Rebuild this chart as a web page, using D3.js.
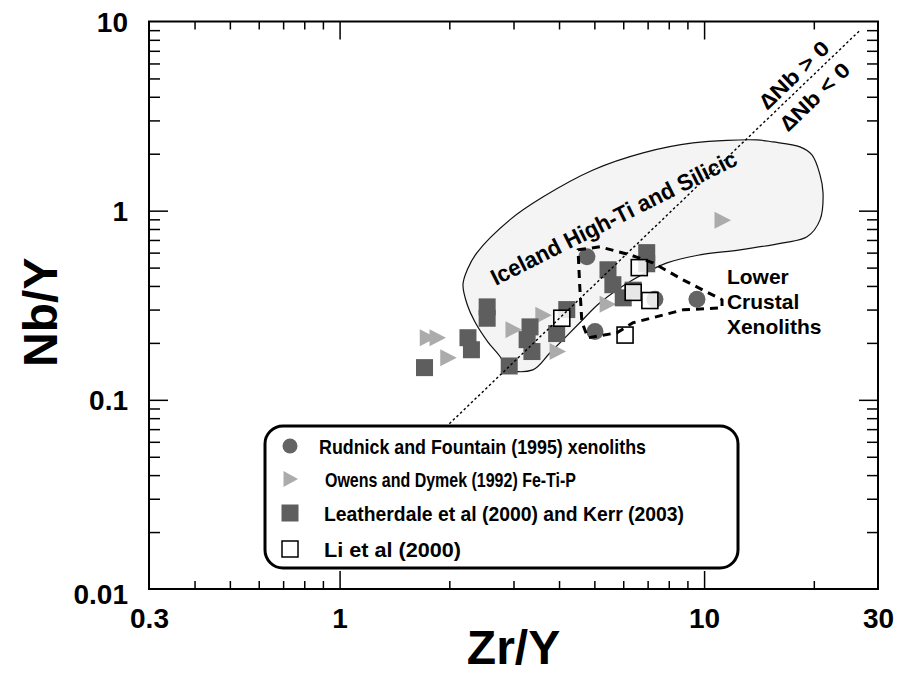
<!DOCTYPE html>
<html><head><meta charset="utf-8">
<script src="https://cdn.jsdelivr.net/npm/d3@7"></script>
<style>body{margin:0;background:#fff}</style>
</head><body><svg id="c" width="898" height="673"></svg>
<script>
// ---------- data ----------
const xTickValues = [0.3, 1, 10, 30];
const xTickLabels = ["0.3", "1", "10", "30"];
const xMajorTicks = [1, 10];
const xMinorTicks = [0.4,0.5,0.6,0.7,0.8,0.9,2,3,4,5,6,7,8,9,20];
const yTickValues = [0.01, 0.1, 1, 10];
const yTickLabels = ["0.01", "0.1", "1", "10"];
const yMajorTicks = [0.1, 1];
const yMinorTicks = [0.02,0.03,0.04,0.05,0.06,0.07,0.08,0.09,0.2,0.3,0.4,0.5,0.6,0.7,0.8,0.9,2,3,4,5,6,7,8,9];

const rudnickZrY = [4.77, 5.02, 7.33, 9.56];
const rudnickNbY = [0.57, 0.23, 0.34, 0.34];

const owensZrY = [1.74, 1.85, 1.98, 2.99, 3.61, 3.95, 5.42, 11.2];
const owensNbY = [0.213, 0.213, 0.167, 0.235, 0.28, 0.18, 0.32, 0.89];

const leatherZrY = [1.71, 2.25, 2.30, 2.54, 2.54, 2.92, 3.33, 3.27, 3.37, 3.94, 4.20, 5.45, 5.62, 6.00, 6.39, 6.96, 6.96];
const leatherNbY = [0.148, 0.213, 0.184, 0.31, 0.27, 0.151, 0.243, 0.208, 0.18, 0.224, 0.30, 0.487, 0.406, 0.346, 0.38, 0.60, 0.524];

const liZrY = [4.07, 6.64, 6.39, 7.10, 6.07];
const liNbY = [0.27, 0.50, 0.37, 0.335, 0.22];

const icelandZrY = [13.97, 9.32, 6.80, 4.96, 3.61, 2.93, 2.38, 2.24, 2.18, 2.24, 2.35, 2.55, 2.77, 2.86, 3.39, 3.78, 4.56, 5.18, 6.38, 7.91, 9.74, 12.55, 16.47, 19.16, 20.80, 21.20, 20.80, 19.77, 18.33, 15.45];
const icelandNbY = [2.366, 2.28, 2.02, 1.64, 1.18, 0.894, 0.599, 0.487, 0.406, 0.318, 0.2586, 0.2027, 0.167, 0.146, 0.144, 0.1773, 0.2555, 0.3257, 0.431, 0.530, 0.584, 0.621, 0.676, 0.727, 0.894, 1.242, 1.546, 1.97, 2.173, 2.309];

const lowerCrustZrY = [4.51, 5.18, 6.26, 7.24, 8.75, 11.2, 11.2, 8.75, 6.38, 5.77, 4.80, 4.62, 4.56];
const lowerCrustNbY = [0.621, 0.644, 0.584, 0.530, 0.431, 0.338, 0.3065, 0.299, 0.2555, 0.2262, 0.2128, 0.2586, 0.396];

const deltaNbZrY = [2.0, 26.8];
const deltaNbNbY = [0.0747, 9.0];

const legendLabels = ["Rudnick and Fountain (1995) xenoliths", " Owens and Dymek (1992) Fe-Ti-P", "Leatherdale et al (2000) and Kerr (2003)", "Li et al (2000)"];
const legendWidths = [327, 251, 360, 137];

// ---------- setup ----------
const svg = d3.select("#c");
const FONT = "'Liberation Sans', Arial, sans-serif";
const L = 149, R = 878, T = 21.5, B = 589;
const x = d3.scaleLog().domain([0.3, 30]).range([L, R]);
const y = d3.scaleLog().domain([0.01, 10]).range([B, T]);

const darkGray = "#5e5e5e", circleGray = "#646464", lightGray = "#ababab";

// Iceland field
const icelandPts = icelandZrY.map((v, i) => [x(v), y(icelandNbY[i])]);
svg.append("path")
  .attr("d", d3.line().curve(d3.curveCatmullRomClosed.alpha(0.5))(icelandPts))
  .attr("fill", "#f4f4f4").attr("stroke", "#111").attr("stroke-width", 1.2);

// markers
const g = svg.append("g");
g.selectAll(".tri").data(owensZrY).enter().append("path")
  .attr("d", "M-7.5,-8.5L9,0L-7.5,8.5Z")
  .attr("transform", (d, i) => `translate(${x(d)},${y(owensNbY[i])})`)
  .attr("fill", lightGray);
g.selectAll(".sq").data(leatherZrY).enter().append("rect")
  .attr("x", d => x(d) - 8.5).attr("y", (d, i) => y(leatherNbY[i]) - 8.5)
  .attr("width", 17).attr("height", 17).attr("fill", darkGray);
g.selectAll(".ci").data(rudnickZrY).enter().append("circle")
  .attr("cx", d => x(d)).attr("cy", (d, i) => y(rudnickNbY[i])).attr("r", 8.5)
  .attr("fill", circleGray);
g.selectAll(".osq").data(liZrY).enter().append("rect")
  .attr("x", d => x(d) - 8).attr("y", (d, i) => y(liNbY[i]) - 8)
  .attr("width", 16).attr("height", 16).attr("fill", "#fff").attr("fill-opacity", 0.85)
  .attr("stroke", "#000").attr("stroke-width", 1.6);

// Delta Nb line
const lp = deltaNbZrY.map((v, i) => [x(v), y(deltaNbNbY[i])]);
svg.append("line").attr("x1", lp[0][0]).attr("y1", lp[0][1]).attr("x2", lp[1][0]).attr("y2", lp[1][1])
  .attr("stroke", "#000").attr("stroke-width", 1.4).attr("stroke-dasharray", "2.5,2.5");
const ang = Math.atan2(lp[1][1] - lp[0][1], lp[1][0] - lp[0][0]) * 180 / Math.PI;
const tpos = 0.862;
const lx = lp[0][0] + (lp[1][0] - lp[0][0]) * tpos, ly = lp[0][1] + (lp[1][1] - lp[0][1]) * tpos;
const dg = svg.append("g").attr("transform", `translate(${lx},${ly}) rotate(${ang})`);
dg.append("text").attr("x", 0).attr("y", -6).attr("text-anchor", "middle")
  .attr("font-family", FONT).attr("font-weight", "bold").attr("font-size", 21)
  .attr("textLength", 88).attr("lengthAdjust", "spacingAndGlyphs").text("∆Nb > 0");
dg.append("text").attr("x", 0).attr("y", 24).attr("text-anchor", "middle")
  .attr("font-family", FONT).attr("font-weight", "bold").attr("font-size", 21)
  .attr("textLength", 88).attr("lengthAdjust", "spacingAndGlyphs").text("∆Nb < 0");

// Lower crustal polygon
const lcPts = lowerCrustZrY.map((v, i) => [x(v), y(lowerCrustNbY[i])]);
svg.append("path").attr("d", d3.line().curve(d3.curveLinearClosed)(lcPts))
  .attr("fill", "none").attr("stroke", "#000").attr("stroke-width", 3)
  .attr("stroke-dasharray", "8,6").attr("stroke-linejoin", "round");

// field labels
svg.append("text").attr("transform", `translate(${x(2.68)},${y(0.40)}) rotate(-26.6)`)
  .attr("font-family", FONT).attr("font-weight", "bold").attr("font-size", 23)
  .attr("textLength", 272).attr("lengthAdjust", "spacingAndGlyphs")
  .text("Iceland High-Ti and Silicic");
const lcLabel = ["Lower", "Crustal", "Xenoliths"];
svg.append("g").selectAll("text").data(lcLabel).enter().append("text")
  .attr("x", x(11.55)).attr("y", (d, i) => y(0.41) + i * 25)
  .attr("font-family", FONT).attr("font-weight", "bold").attr("font-size", 21)
  .text(d => d);

// ---------- axes ----------
function styleAxis(sel) {
  sel.select(".domain").remove();
  sel.selectAll("line").attr("stroke", "#000").attr("stroke-width", 1.5);
  sel.selectAll("text").attr("font-family", FONT).attr("font-weight", "bold").attr("font-size", 28).attr("fill", "#000");
}
svg.append("g").attr("transform", `translate(0,${B})`)
  .call(d3.axisBottom(x).tickValues(xMinorTicks).tickSize(-8).tickFormat("")).call(styleAxis);
svg.append("g").attr("transform", `translate(0,${B})`)
  .call(d3.axisBottom(x).tickValues(xMajorTicks).tickSize(-18).tickFormat("")).call(styleAxis);
svg.append("g").attr("transform", `translate(0,${B})`)
  .call(d3.axisBottom(x).tickValues(xTickValues).tickSize(0).tickPadding(19)
    .tickFormat((d, i) => xTickLabels[i])).call(styleAxis);
svg.append("g").attr("transform", `translate(0,${T})`)
  .call(d3.axisTop(x).tickValues(xMinorTicks).tickSize(-8).tickFormat("")).call(styleAxis);
svg.append("g").attr("transform", `translate(0,${T})`)
  .call(d3.axisTop(x).tickValues(xMajorTicks).tickSize(-18).tickFormat("")).call(styleAxis);

svg.append("g").attr("transform", `translate(${L},0)`)
  .call(d3.axisLeft(y).tickValues(yMinorTicks).tickSize(-11).tickFormat("")).call(styleAxis);
svg.append("g").attr("transform", `translate(${L},0)`)
  .call(d3.axisLeft(y).tickValues(yMajorTicks).tickSize(-19).tickFormat("")).call(styleAxis);
const yl = svg.append("g").attr("transform", `translate(${L},0)`)
  .call(d3.axisLeft(y).tickValues(yTickValues).tickSize(0).tickPadding(21)
    .tickFormat((d, i) => yTickLabels[i])).call(styleAxis);
yl.selectAll("text").attr("dy", d => d === 0.01 ? "0.52em" : "0.36em");
svg.append("g").attr("transform", `translate(${R},0)`)
  .call(d3.axisRight(y).tickValues(yMinorTicks).tickSize(-11).tickFormat("")).call(styleAxis);
svg.append("g").attr("transform", `translate(${R},0)`)
  .call(d3.axisRight(y).tickValues(yMajorTicks).tickSize(-19).tickFormat("")).call(styleAxis);

svg.append("rect").attr("x", L).attr("y", T).attr("width", R - L).attr("height", B - T)
  .attr("fill", "none").attr("stroke", "#000").attr("stroke-width", 2);

// axis titles
svg.append("text").attr("x", (L + R) / 2 + 0).attr("y", 664).attr("text-anchor", "middle")
  .attr("font-family", FONT).attr("font-weight", "bold").attr("font-size", 48).text("Zr/Y");
svg.append("text").attr("transform", `translate(57,${(T + B) / 2 + 7}) rotate(-90)`).attr("text-anchor", "middle")
  .attr("font-family", FONT).attr("font-weight", "bold").attr("font-size", 48).text("Nb/Y");

// ---------- legend ----------
const lg = svg.append("g");
lg.append("rect").attr("x", 265).attr("y", 426).attr("width", 473).attr("height", 142)
  .attr("rx", 18).attr("ry", 18).attr("fill", "#fff").attr("stroke", "#000").attr("stroke-width", 3);
const rowY = [446, 479, 513, 549];
const sx = 290;
lg.append("circle").attr("cx", sx).attr("cy", rowY[0]).attr("r", 7.5).attr("fill", circleGray);
lg.append("path").attr("d", "M-6.5,-8L8,0L-6.5,8Z").attr("transform", `translate(${sx},${rowY[1]})`).attr("fill", lightGray);
lg.append("rect").attr("x", sx - 8.5).attr("y", rowY[2] - 8.5).attr("width", 17).attr("height", 17).attr("fill", darkGray);
lg.append("rect").attr("x", sx - 8).attr("y", rowY[3] - 8).attr("width", 16).attr("height", 16).attr("fill", "#fff").attr("stroke", "#000").attr("stroke-width", 1.5);
lg.selectAll(".lt").data(legendLabels).enter().append("text")
  .attr("x", (d, i) => i === 1 ? 325 : (i === 0 ? 319 : 324))
  .attr("y", (d, i) => rowY[i] + 7.5)
  .attr("font-family", FONT).attr("font-weight", "bold").attr("font-size", 21)
  .attr("textLength", (d, i) => legendWidths[i]).attr("lengthAdjust", "spacingAndGlyphs")
  .text(d => d.trim());
</script>
</body></html>
